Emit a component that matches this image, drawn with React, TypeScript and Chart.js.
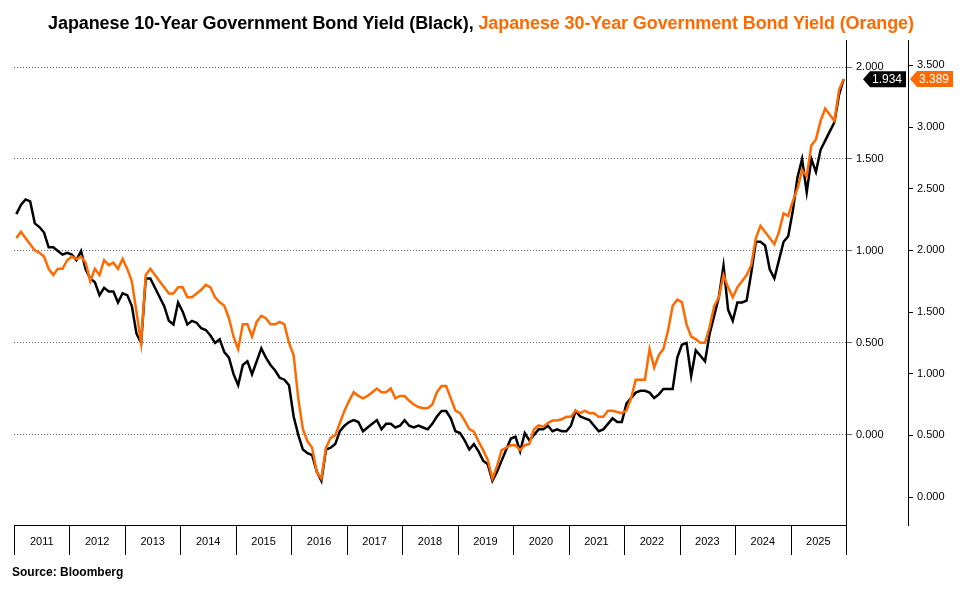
import React, { useEffect, useRef } from "react";
import { Chart, registerables } from "chart.js";
Chart.register(...registerables);

const years = [2011, 2012, 2013, 2014, 2015, 2016, 2017, 2018, 2019, 2020, 2021, 2022, 2023, 2024, 2025];
const jgb10 = [
  1.20,1.25,1.28,1.27,1.15,1.13,1.10,1.02,1.02,1.00,0.98,0.99,
  0.98,0.95,1.00,0.90,0.85,0.83,0.76,0.80,0.78,0.78,0.72,0.77,
  0.76,0.70,0.55,0.50,0.85,0.85,0.80,0.75,0.70,0.62,0.60,0.72,
  0.67,0.60,0.62,0.61,0.58,0.57,0.54,0.50,0.52,0.45,0.42,0.33,
  0.27,0.38,0.40,0.33,0.40,0.47,0.42,0.38,0.35,0.31,0.30,0.27,
  0.10,0.00,-0.08,-0.10,-0.11,-0.20,-0.25,-0.08,-0.07,-0.05,0.02,0.05,
  0.07,0.08,0.07,0.02,0.04,0.06,0.08,0.03,0.06,0.06,0.04,0.05,
  0.08,0.05,0.04,0.05,0.04,0.03,0.06,0.10,0.13,0.13,0.09,0.02,
  0.01,-0.03,-0.08,-0.05,-0.09,-0.14,-0.16,-0.25,-0.20,-0.14,-0.08,-0.02,
  -0.01,-0.09,0.01,-0.03,0.00,0.03,0.03,0.05,0.02,0.03,0.02,0.02,
  0.05,0.13,0.10,0.09,0.08,0.05,0.02,0.03,0.06,0.09,0.07,0.07,
  0.17,0.20,0.23,0.24,0.24,0.23,0.20,0.22,0.25,0.25,0.25,0.42,
  0.49,0.50,0.32,0.46,0.43,0.40,0.55,0.65,0.75,0.92,0.68,0.62,
  0.72,0.72,0.73,0.88,1.05,1.05,1.03,0.90,0.85,0.95,1.05,1.08,
  1.22,1.40,1.50,1.32,1.50,1.43,1.55,1.60,1.65,1.70,1.85,1.934,
];
const jgb30 = [
  2.10,2.15,2.10,2.05,2.00,1.98,1.95,1.85,1.80,1.85,1.85,1.92,
  1.95,1.93,1.95,1.90,1.75,1.85,1.80,1.92,1.88,1.90,1.85,1.93,
  1.85,1.75,1.50,1.25,1.80,1.85,1.80,1.75,1.70,1.65,1.65,1.70,
  1.70,1.62,1.62,1.65,1.68,1.72,1.70,1.62,1.58,1.55,1.45,1.30,
  1.20,1.40,1.40,1.30,1.42,1.47,1.45,1.40,1.40,1.42,1.40,1.25,
  1.15,0.80,0.55,0.45,0.40,0.20,0.15,0.40,0.48,0.50,0.60,0.70,
  0.78,0.85,0.82,0.80,0.82,0.85,0.88,0.85,0.85,0.88,0.80,0.82,
  0.82,0.78,0.75,0.73,0.72,0.72,0.75,0.85,0.90,0.90,0.80,0.70,
  0.68,0.62,0.55,0.53,0.45,0.38,0.30,0.15,0.25,0.38,0.40,0.42,
  0.42,0.38,0.42,0.43,0.55,0.58,0.57,0.60,0.62,0.62,0.63,0.65,
  0.65,0.70,0.68,0.70,0.68,0.68,0.65,0.65,0.70,0.70,0.69,0.68,
  0.70,0.80,0.95,0.95,0.95,1.20,1.05,1.15,1.20,1.35,1.55,1.60,
  1.58,1.40,1.30,1.28,1.25,1.25,1.38,1.55,1.62,1.80,1.70,1.62,
  1.70,1.75,1.80,1.88,2.10,2.20,2.15,2.10,2.05,2.15,2.30,2.28,
  2.40,2.50,2.65,2.60,2.85,2.90,3.05,3.15,3.10,3.05,3.30,3.389,
];
const leftTicks = [0, 0.5, 1, 1.5, 2];
const rightTicks = [0, 0.5, 1, 1.5, 2, 2.5, 3, 3.5];
const ORANGE = "#FF6A00";
const FONT = "'Liberation Sans', Arial, sans-serif";

const toPts = (arr: number[]) => arr.map((v, i) => ({ x: 2011 + (i + 0.5) / 12, y: v }));

const extras = {
  id: "extras",
  afterDraw(chart: any) {
    const ctx = chart.ctx;
    const a = chart.chartArea;
    const x = chart.scales.x;
    ctx.save();
    ctx.strokeStyle = "#000";
    ctx.lineWidth = 1;
    for (let y = 2011; y <= 2026; y++) {
      const px = Math.round(x.getPixelForValue(y)) + 0.5;
      ctx.beginPath();
      ctx.moveTo(px, a.bottom);
      ctx.lineTo(px, a.bottom + 30);
      ctx.stroke();
    }
    const tag = (xl: number, yv: number, txt: string, bg: string, w: number) => {
      const h = 16;
      ctx.fillStyle = bg;
      ctx.beginPath();
      ctx.moveTo(xl - 7, yv);
      ctx.lineTo(xl, yv - h / 2);
      ctx.lineTo(xl + w, yv - h / 2);
      ctx.lineTo(xl + w, yv + h / 2);
      ctx.lineTo(xl, yv + h / 2);
      ctx.closePath();
      ctx.fill();
      ctx.fillStyle = "#fff";
      ctx.font = "12px " + FONT;
      ctx.textBaseline = "middle";
      ctx.textAlign = "left";
      ctx.fillText(txt, xl + 2, yv + 1);
    };
    const y1 = chart.scales.y1.getPixelForValue(jgb10[jgb10.length - 1]);
    const y2 = chart.scales.y2.getPixelForValue(jgb30[jgb30.length - 1]);
    tag(870, y1, jgb10[jgb10.length - 1].toFixed(3), "#000", 36);
    tag(917, y2, jgb30[jgb30.length - 1].toFixed(3), ORANGE, 36);
    ctx.restore();
  },
};

export default function App() {
  const ref = useRef<HTMLCanvasElement>(null);
  useEffect(() => {
    const chart = new Chart(ref.current!, {
      type: "line",
      data: {
        datasets: [
          { data: toPts(jgb30), yAxisID: "y2", borderColor: ORANGE, borderWidth: 2.5, pointRadius: 0, tension: 0 },
          { data: toPts(jgb10), yAxisID: "y1", borderColor: "#000", borderWidth: 2.5, pointRadius: 0, tension: 0 },
        ],
      },
      options: {
        animation: false,
        responsive: false,
        layout: { padding: { left: 14, top: 40, bottom: 38, right: 0 } },
        plugins: { legend: { display: false }, tooltip: { enabled: false } },
        scales: {
          x: {
            type: "linear",
            min: 2011,
            max: 2026,
            afterBuildTicks: (s: any) => { s.ticks = years.map((y) => ({ value: y + 0.5 })); },
            afterFit: (s: any) => { s.height = 30; },
            grid: { display: false, drawTicks: false },
            border: { display: true, color: "#000" },
            ticks: { callback: (v: any) => String(Math.floor(Number(v))), maxRotation: 0, autoSkip: false, color: "#000", font: { family: FONT, size: 11 }, padding: 10 },
          },
          y1: {
            position: "right",
            min: -0.49,
            max: 2.147,
            afterBuildTicks: (s: any) => { s.ticks = leftTicks.map((v) => ({ value: v })); },
            afterFit: (s: any) => { s.width = 62; },
            grid: { color: "#666", tickLength: 6 },
            border: { display: true, color: "#000", dash: [1, 2] },
            ticks: { callback: (v: any) => Number(v).toFixed(3), color: "#000", font: { family: FONT, size: 11 }, padding: 4 },
          },
          y2: {
            position: "right",
            min: -0.227,
            max: 3.706,
            afterBuildTicks: (s: any) => { s.ticks = rightTicks.map((v) => ({ value: v })); },
            afterFit: (s: any) => { s.width = 54; },
            grid: { drawOnChartArea: false, color: "#000", tickLength: 5 },
            border: { display: true, color: "#000" },
            ticks: { callback: (v: any) => Number(v).toFixed(3), color: "#000", font: { family: FONT, size: 11 }, padding: 4 },
          },
        },
      },
      plugins: [extras],
    } as any);
    return () => chart.destroy();
  }, []);
  return (
    <div style={{ position: "fixed", left: 0, top: 0, width: 962, height: 593, background: "#fff" }}>
      <canvas ref={ref} width={962} height={593} style={{ position: "absolute", left: 0, top: 0 }} />
      <div style={{ position: "absolute", left: 0, width: 962, top: 13, textAlign: "center", fontFamily: FONT, fontWeight: "bold", fontSize: 18, letterSpacing: -0.1 }}>
        <span style={{ color: "#000" }}>Japanese 10-Year Government Bond Yield (Black), </span>
        <span style={{ color: ORANGE }}>Japanese 30-Year Government Bond Yield (Orange)</span>
      </div>
      <div style={{ position: "absolute", left: 12, top: 565, fontFamily: FONT, fontWeight: "bold", fontSize: 12 }}>Source: Bloomberg</div>
    </div>
  );
}
